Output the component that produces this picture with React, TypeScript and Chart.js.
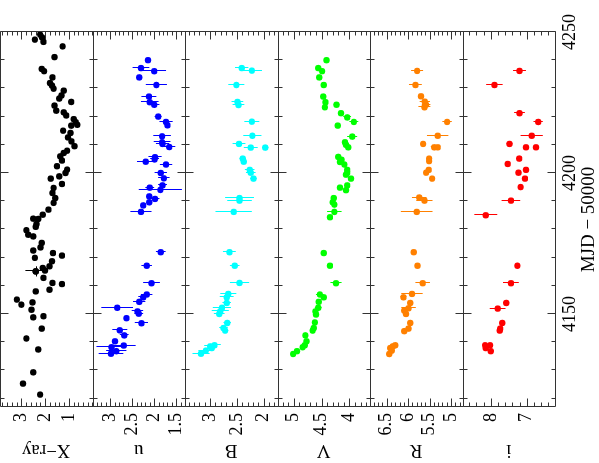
import React, { useEffect, useRef } from "react";
import { Chart, registerables } from "chart.js";

Chart.register(...registerables);

const FONT = '"Liberation Serif", "Times New Roman", serif';

// MJD - 50000 axis
const mjdMin = 4117;
const mjdMax = 4250;
const mjdTicks = [4150, 4200, 4250];

// X-ray
const xrayMjd = [4249.1, 4248.1, 4247.3, 4246.5, 4244.9, 4241.1, 4236.9, 4236.1, 4233.9, 4231.9, 4231.0, 4229.9, 4229.2, 4227.5, 4226.4, 4225.2, 4223.9, 4222.1, 4221.5, 4220.4, 4219.1, 4218.0, 4217.1, 4216.8, 4215.0, 4214.2, 4212.6, 4211.2, 4209.5, 4207.9, 4207.1, 4205.9, 4204.4, 4202.4, 4201.2, 4200.0, 4198.8, 4198.0, 4196.1, 4194.7, 4192.9, 4191.1, 4189.4, 4187.0, 4185.2, 4183.7, 4183.8, 4181.9, 4180.9, 4179.7, 4178.1, 4177.5, 4175.2, 4173.6, 4172.5, 4171.6, 4170.7, 4169.9, 4168.7, 4166.9, 4166.3, 4165.4, 4165.1, 4162.8, 4161.0, 4160.6, 4158.6, 4158.0, 4155.1, 4154.1, 4153.3, 4151.5, 4149.2, 4148.8, 4144.8, 4141.3, 4137.4, 4129.3, 4125.3, 4121.4];
const xrayVal = [2.21, 2.13, 2.43, 2.07, 1.26, 1.60, 2.14, 2.04, 1.69, 1.79, 1.71, 1.64, 1.21, 1.31, 1.40, 0.90, 1.60, 1.53, 1.21, 1.11, 0.79, 0.71, 0.64, 0.90, 1.24, 0.93, 1.03, 0.89, 0.76, 1.07, 1.21, 1.36, 1.29, 1.50, 1.07, 1.14, 1.40, 1.76, 1.29, 1.64, 1.69, 1.57, 1.64, 1.86, 2.10, 2.29, 2.50, 2.36, 2.39, 2.79, 2.71, 2.50, 2.14, 2.19, 2.50, 1.67, 1.29, 2.43, 1.71, 1.81, 2.10, 2.00, 2.39, 2.07, 1.69, 1.29, 1.81, 2.39, 3.19, 2.53, 3.00, 2.57, 2.07, 2.50, 2.14, 2.79, 2.29, 2.50, 2.93, 2.21];
// the one X-ray point with error bars
const xrayErrMjd = [4165.1];
const xrayErrVal = [2.39];
const xrayErrSize = [0.44];
const xrayErrTime = [1.8];

// u
const uMjd = [4240.0, 4237.2, 4236.1, 4233.9, 4231.2, 4227.1, 4225.1, 4224.2, 4220.0, 4218.1, 4216.9, 4213.0, 4210.9, 4210.3, 4209.2, 4205.6, 4204.8, 4204.0, 4203.0, 4200.0, 4198.1, 4195.6, 4194.8, 4194.0, 4191.7, 4190.8, 4189.6, 4188.5, 4186.2, 4171.9, 4167.1, 4160.9, 4156.9, 4155.9, 4154.3, 4152.2, 4150.9, 4150.1, 4148.5, 4146.7, 4144.2, 4142.4, 4140.3, 4138.8, 4138.2, 4136.8, 4135.9];
const uMag = [2.14, 2.30, 2.00, 2.34, 1.95, 2.12, 2.10, 2.00, 1.91, 1.73, 1.70, 1.82, 1.82, 1.81, 1.66, 1.98, 1.99, 2.19, 1.73, 1.85, 1.78, 1.81, 2.10, 1.86, 2.11, 1.98, 2.11, 2.25, 2.30, 1.85, 2.17, 2.06, 2.17, 2.25, 2.34, 2.84, 2.38, 2.35, 2.63, 2.29, 2.78, 2.68, 2.89, 2.69, 2.97, 2.86, 2.98];
const uErr = [0, 0.19, 0.27, 0, 0.24, 0.17, 0.20, 0.12, 0.08, 0.15, 0.06, 0.20, 0.19, 0.15, 0.14, 0.15, 0.10, 0.20, 0.14, 0.14, 0.13, 0.10, 0.10, 0.49, 0, 0.10, 0, 0, 0.24, 0.11, 0.12, 0.19, 0.13, 0.11, 0.14, 0.36, 0.13, 0.10, 0, 0.15, 0.17, 0.10, 0, 0.27, 0.34, 0.23, 0.28];

// B
const bMjd = [4237.2, 4236.3, 4231.2, 4225.2, 4224.1, 4218.2, 4213.2, 4210.3, 4209.0, 4209.0, 4205.1, 4204.0, 4201.1, 4200.1, 4198.0, 4191.1, 4190.2, 4186.2, 4171.9, 4167.1, 4161.0, 4157.1, 4155.9, 4153.9, 4152.2, 4150.9, 4150.0, 4146.8, 4145.0, 4144.1, 4138.9, 4138.5, 4137.9, 4137.0, 4135.9];
const bMag = [2.41, 2.22, 2.51, 2.49, 2.47, 2.22, 2.21, 2.46, 2.24, 1.97, 2.39, 2.37, 2.26, 2.24, 2.19, 2.45, 2.45, 2.56, 2.64, 2.54, 2.45, 2.66, 2.69, 2.69, 2.78, 2.81, 2.83, 2.68, 2.75, 2.72, 2.92, 3.00, 2.97, 3.08, 3.17];
const bErr = [0.125, 0.19, 0.15, 0.11, 0.11, 0.14, 0.17, 0.12, 0.13, 0.06, 0.06, 0.05, 0.09, 0.09, 0.06, 0.27, 0.23, 0.34, 0.12, 0.09, 0.18, 0.15, 0.13, 0.08, 0.17, 0.16, 0.10, 0.07, 0.08, 0.06, 0.12, 0.11, 0.08, 0.14, 0.16];

// V
const vMjd = [4240.0, 4237.2, 4236.1, 4233.9, 4231.2, 4227.1, 4225.1, 4224.2, 4223.3, 4221.2, 4219.7, 4218.1, 4216.8, 4212.9, 4210.9, 4210.0, 4209.1, 4205.7, 4204.7, 4203.9, 4203.0, 4201.1, 4200.1, 4199.4, 4198.0, 4195.6, 4194.8, 4193.9, 4191.1, 4189.6, 4188.8, 4186.2, 4184.3, 4171.6, 4167.1, 4160.9, 4156.9, 4155.9, 4154.3, 4152.2, 4150.9, 4149.8, 4147.0, 4145.0, 4144.1, 4142.4, 4140.3, 4138.9, 4138.2, 4136.8, 4135.8];
const vMag = [4.41, 4.56, 4.49, 4.54, 4.46, 4.47, 4.43, 4.23, 4.44, 4.15, 4.04, 3.92, 4.21, 3.95, 4.08, 4.06, 4.02, 4.20, 4.14, 4.17, 4.09, 4.04, 4.04, 4.06, 3.97, 4.04, 4.17, 4.06, 4.28, 4.30, 4.27, 4.27, 4.35, 4.46, 4.35, 4.24, 4.53, 4.46, 4.55, 4.56, 4.61, 4.60, 4.62, 4.64, 4.66, 4.79, 4.77, 4.80, 4.84, 4.94, 5.01];
const vErr = [0, 0, 0, 0, 0, 0, 0, 0.05, 0, 0, 0.07, 0.08, 0, 0.09, 0, 0, 0, 0, 0, 0, 0, 0, 0, 0, 0, 0, 0, 0, 0.05, 0, 0, 0.13, 0, 0, 0, 0.10, 0.07, 0, 0, 0.06, 0, 0, 0, 0, 0, 0, 0, 0, 0, 0, 0];

// R
const rMjd = [4236.2, 4231.2, 4227.2, 4225.3, 4224.2, 4223.3, 4218.1, 4213.2, 4210.3, 4209.1, 4209.1, 4205.1, 4204.2, 4201.1, 4200.1, 4198.0, 4191.3, 4190.2, 4186.2, 4171.9, 4167.1, 4160.9, 4157.1, 4155.9, 4153.9, 4152.0, 4151.2, 4150.0, 4146.8, 4144.8, 4143.9, 4138.9, 4138.5, 4137.9, 4137.0, 4135.8];
const rMag = [5.79, 5.83, 5.70, 5.61, 5.58, 5.62, 5.09, 5.31, 5.65, 5.39, 5.31, 5.51, 5.51, 5.52, 5.58, 5.44, 5.74, 5.62, 5.80, 5.87, 5.78, 5.66, 5.91, 6.11, 5.95, 5.99, 6.09, 6.05, 5.95, 5.99, 6.09, 6.30, 6.36, 6.42, 6.38, 6.44];
const rErr = [0.14, 0.15, 0, 0.12, 0.10, 0.14, 0.11, 0.25, 0, 0.08, 0.06, 0, 0, 0, 0, 0, 0.17, 0.19, 0.37, 0.06, 0.05, 0.17, 0.25, 0.07, 0, 0.17, 0, 0, 0, 0, 0, 0.06, 0, 0, 0, 0];

// i
const iMjd = [4236.2, 4231.2, 4221.2, 4218.1, 4213.2, 4210.3, 4209.1, 4209.1, 4205.1, 4203.2, 4201.1, 4200.1, 4198.0, 4195.0, 4190.2, 4185.0, 4167.1, 4160.9, 4153.9, 4151.9, 4146.8, 4144.8, 4144.1, 4138.9, 4138.9, 4137.9, 4136.8];
const iMag = [7.20, 7.90, 7.20, 6.68, 6.86, 7.48, 7.02, 6.74, 7.21, 7.53, 7.02, 7.23, 7.05, 7.17, 7.44, 8.14, 7.26, 7.44, 7.57, 7.81, 7.68, 7.74, 7.75, 8.16, 8.02, 8.14, 8.00];
const iErr = [0.18, 0.23, 0.15, 0.13, 0.31, 0.08, 0.08, 0.07, 0.07, 0.07, 0.06, 0.07, 0.06, 0.07, 0.26, 0.32, 0.06, 0.22, 0.08, 0.22, 0, 0, 0, 0.07, 0, 0, 0.08];

// panels (top to bottom in the un-rotated plot)
const panelIds = ["yX", "yu", "yB", "yV", "yR", "yi"];
const panelTitles = ["X−ray", "u", "B", "V", "R", "i"];
const panelMin = [0, 1.3, 1.74, 3.63, 4.73, 6.21];
const panelMax = [3.9, 3.4, 3.47, 5.29, 6.89, 8.79];
const panelTicks = [[1, 2, 3], [1.5, 2, 2.5, 3], [2, 2.5, 3], [4, 4.5, 5], [5, 5.5, 6, 6.5], [7, 8]];
const panelMajor = [1, 0.5, 0.5, 0.5, 0.5, 1];
const panelMinor = [0.2, 0.1, 0.1, 0.1, 0.1, 0.2];
const panelColors = ["#000000", "#0000ff", "#00ffff", "#00ff00", "#ff8000", "#ff0000"];
const panelMjd = [xrayMjd, uMjd, bMjd, vMjd, rMjd, iMjd];
const panelVal = [xrayVal, uMag, bMag, vMag, rMag, iMag];
const panelErr = [xrayVal.map(() => 0), uErr, bErr, vErr, rErr, iErr];

const W = 463; // un-rotated width
const H = 599; // un-rotated height

const crisp = (v: number) => Math.round(v) + 0.5;

const framePlugin = {
  id: "frames",
  beforeDatasetsDraw(chart: any) {
    const ctx = chart.ctx;
    const xs = chart.scales.x;
    const { left, right } = chart.chartArea;
    ctx.save();
    ctx.strokeStyle = "#333333";
    ctx.lineWidth = 1;
    const L = crisp(left);
    const R = crisp(right);
    panelIds.forEach((id, p) => {
      const ys = chart.scales[id];
      const T = crisp(ys.top);
      const B = crisp(ys.bottom);
      ctx.beginPath();
      ctx.rect(L, T, R - L, B - T);
      // MJD ticks
      for (let v = 4120; v <= mjdMax; v += 10) {
        const len = v % 50 === 0 ? 8 : 4;
        const px = crisp(xs.getPixelForValue(v));
        ctx.moveTo(px, T);
        ctx.lineTo(px, T + len);
        ctx.moveTo(px, B);
        ctx.lineTo(px, B - len);
      }
      // value ticks
      const mi = panelMinor[p];
      const ma = panelMajor[p];
      const start = Math.ceil(panelMin[p] / mi - 1e-6);
      const end = Math.floor(panelMax[p] / mi + 1e-6);
      for (let k = start; k <= end; k++) {
        const v = k * mi;
        const r = v / ma;
        const major = Math.abs(r - Math.round(r)) < 1e-6;
        const len = major ? 8 : 4;
        const py = crisp(ys.getPixelForValue(v));
        ctx.moveTo(L, py);
        ctx.lineTo(L + len, py);
        ctx.moveTo(R, py);
        ctx.lineTo(R - len, py);
      }
      ctx.stroke();
    });

    // error bars
    panelIds.forEach((id, p) => {
      const ys = chart.scales[id];
      ctx.strokeStyle = panelColors[p];
      ctx.lineWidth = 1;
      ctx.beginPath();
      panelMjd[p].forEach((m, k) => {
        const e = panelErr[p][k];
        if (!e) return;
        const px = crisp(xs.getPixelForValue(m));
        const v = panelVal[p][k];
        ctx.moveTo(px, ys.getPixelForValue(v - e));
        ctx.lineTo(px, ys.getPixelForValue(v + e));
      });
      if (p === 0) {
        xrayErrMjd.forEach((m, k) => {
          const px = crisp(xs.getPixelForValue(m));
          const py = crisp(ys.getPixelForValue(xrayErrVal[k]));
          ctx.moveTo(px, ys.getPixelForValue(xrayErrVal[k] - xrayErrSize[k]));
          ctx.lineTo(px, ys.getPixelForValue(xrayErrVal[k] + xrayErrSize[k]));
          ctx.moveTo(xs.getPixelForValue(m - xrayErrTime[k]), py);
          ctx.lineTo(xs.getPixelForValue(m + xrayErrTime[k]), py);
        });
      }
      ctx.stroke();
    });
    ctx.restore();
  },
};

export default function App() {
  const ref = useRef<HTMLCanvasElement | null>(null);

  useEffect(() => {
    if (!ref.current) return;
    const scales: any = {
      x: {
        type: "linear",
        position: "bottom",
        min: mjdMin,
        max: mjdMax,
        afterBuildTicks: (s: any) => {
          s.ticks = mjdTicks.map((v) => ({ value: v }));
        },
        afterFit: (s: any) => {
          s.height = 44;
          s.paddingLeft = 0;
          s.paddingRight = 0;
        },
        grid: { display: false, drawTicks: false },
        border: { display: false },
        ticks: {
          autoSkip: false,
          maxRotation: 0,
          minRotation: 0,
          padding: 4,
          color: "#000",
          font: { family: FONT, size: 18 },
          callback: (v: any) => String(v),
        },
        title: {
          display: true,
          text: "MJD − 50000",
          color: "#000",
          font: { family: FONT, size: 19, lineHeight: 1 },
          padding: { top: 0, bottom: 0 },
        },
      },
    };
    panelIds.forEach((id, p) => {
      scales[id] = {
        type: "linear",
        position: "left",
        stack: "panels",
        stackWeight: 1,
        weight: 6 - p,
        min: panelMin[p],
        max: panelMax[p],
        afterBuildTicks: (s: any) => {
          s.ticks = panelTicks[p].map((v) => ({ value: v }));
        },
        afterFit: (s: any) => {
          s.width = 56;
          s.paddingTop = 0;
          s.paddingBottom = 0;
        },
        grid: { display: false, drawTicks: false },
        border: { display: false },
        ticks: {
          autoSkip: false,
          padding: 6,
          color: "#000",
          font: { family: FONT, size: 18 },
          callback: (v: any) => String(v),
        },
        title: {
          display: true,
          text: panelTitles[p],
          color: "#000",
          font: { family: FONT, size: 19, lineHeight: 1 },
          padding: { top: 4, bottom: 0 },
        },
      };
    });

    const datasets: any[] = panelIds.map((id, p) => {
      const data = panelMjd[p].map((m, k) => ({ x: m, y: panelVal[p][k] }));
      if (p === 0) {
        xrayErrMjd.forEach((m, k) => data.push({ x: m, y: xrayErrVal[k] }));
      }
      return {
        label: panelTitles[p],
        data,
        xAxisID: "x",
        yAxisID: id,
        pointRadius: 3.2,
        pointBorderWidth: 0,
        pointBackgroundColor: panelColors[p],
        borderColor: panelColors[p],
        showLine: false,
      };
    });

    const chart = new Chart(ref.current, {
      type: "scatter",
      data: { datasets },
      options: {
        animation: false,
        responsive: false,
        devicePixelRatio: 1,
        events: [],
        layout: { autoPadding: false, padding: { left: 0, top: 0, right: 32, bottom: 0 } },
        plugins: { legend: { display: false }, tooltip: { enabled: false } },
        scales,
      } as any,
      plugins: [framePlugin as any],
    });
    return () => chart.destroy();
  }, []);

  return (
    <div
      style={{
        position: "absolute",
        left: 0,
        top: 0,
        width: 599,
        height: 463,
        overflow: "hidden",
        background: "#ffffff",
      }}
    >
      <div
        style={{
          position: "absolute",
          left: 0,
          top: 0,
          width: W,
          height: H,
          transformOrigin: "0 0",
          transform: `translate(0px, ${W}px) rotate(-90deg)`,
        }}
      >
        <canvas ref={ref} width={W} height={H} style={{ display: "block", width: W, height: H }} />
      </div>
    </div>
  );
}
